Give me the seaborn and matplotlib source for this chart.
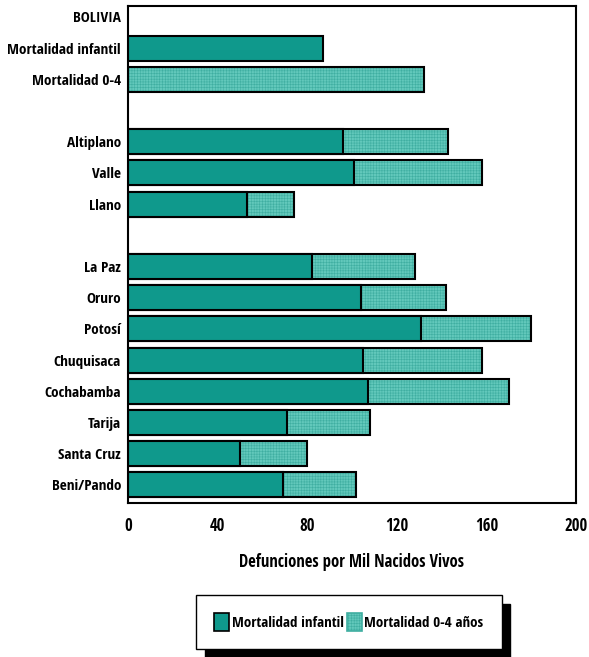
import numpy as np
import pandas as pd
import seaborn as sns
import matplotlib.pyplot as plt
from matplotlib.patches import Patch

# row order (blank rows are the gaps between groups)
rows = ["BOLIVIA", "Mortalidad infantil", "Mortalidad 0-4", "",
        "Altiplano", "Valle", "Llano", " ",
        "La Paz", "Oruro", "Potosí", "Chuquisaca", "Cochabamba",
        "Tarija", "Santa Cruz", "Beni/Pando"]

# infant mortality (dark bars)
infantil_rows = ["Mortalidad infantil", "Altiplano", "Valle", "Llano",
                 "La Paz", "Oruro", "Potosí", "Chuquisaca", "Cochabamba",
                 "Tarija", "Santa Cruz", "Beni/Pando"]
infantil = [87, 96, 101, 53, 82, 104, 131, 105, 107, 71, 50, 69]

# 0-4 mortality (light bars, full length)
total_rows = ["Mortalidad 0-4", "Altiplano", "Valle", "Llano",
              "La Paz", "Oruro", "Potosí", "Chuquisaca", "Cochabamba",
              "Tarija", "Santa Cruz", "Beni/Pando"]
total = [132, 143, 158, 74, 128, 142, 180, 158, 170, 108, 80, 102]

xticks = [0, 40, 80, 120, 160, 200]

dark = "#0f998c"
light = "#62c8bb"
hatch_col = "#3faea1"

sns.set_style("white")
plt.rcParams['font.family'] = ['Open Sans Condensed', 'DejaVu Sans']
plt.rcParams['text.color'] = 'black'
plt.rcParams['xtick.color'] = 'black'
plt.rcParams['ytick.color'] = 'black'
plt.rcParams['axes.labelcolor'] = 'black'
plt.rcParams['hatch.linewidth'] = 0.4

fig = plt.figure(figsize=(5.89, 6.57), dpi=100)
ax = fig.add_axes([128 / 589, 1 - 503 / 657, 448 / 589, 497 / 657])

df_inf = pd.DataFrame({"fila": infantil_rows, "valor": infantil})
df_tot = pd.DataFrame({"fila": total_rows, "valor": total})

# light hatched bars
sns.barplot(data=df_tot, x="valor", y="fila", order=rows, color=light,
            saturation=1, width=0.8, edgecolor=hatch_col, linewidth=0,
            hatch="++++++", ax=ax)
# outline of light bars
sns.barplot(data=df_tot, x="valor", y="fila", order=rows, color="black",
            fill=False, width=0.8, linewidth=1.5, ax=ax)
# dark bars
sns.barplot(data=df_inf, x="valor", y="fila", order=rows, color=dark,
            saturation=1, width=0.8, edgecolor="black", linewidth=1.5, ax=ax)

ax.set_xlim(0, 200)
ax.set_ylim(15.58, -0.35)
ax.set_xticks(xticks)
ax.set_xticklabels([str(t) for t in xticks], fontsize=12, fontweight="bold")
ax.set_yticks(range(len(rows)))
ax.set_yticklabels(rows, fontsize=11, fontweight="bold")
ax.tick_params(axis="x", length=0, pad=10)
ax.tick_params(axis="y", length=0, pad=5)
ax.set_ylabel("")
ax.set_xlabel("Defunciones por Mil Nacidos Vivos", fontsize=12,
              fontweight="bold", labelpad=13)
for s in ax.spines.values():
    s.set_visible(True)
    s.set_color("black")
    s.set_linewidth(1.5)

handles = [Patch(facecolor=dark, edgecolor="black", linewidth=1.2),
           Patch(facecolor=light, edgecolor=hatch_col, hatch="++++++", linewidth=1.2)]
fig.legend(handles, ["Mortalidad infantil", "Mortalidad 0-4 años"],
           loc="center", bbox_to_anchor=(349 / 589, 1 - 622 / 657), ncol=2,
           frameon=True, fancybox=False, edgecolor="black", framealpha=1,
           shadow={"ox": 6, "oy": -6, "facecolor": "black",
                   "edgecolor": "black", "alpha": 1},
           handlelength=1.0, handleheight=1.4, handletextpad=0.15,
           columnspacing=0.25, borderpad=1.2,
           prop={"size": 10.8, "weight": "bold"})

fig.savefig("out.png", dpi=100)
